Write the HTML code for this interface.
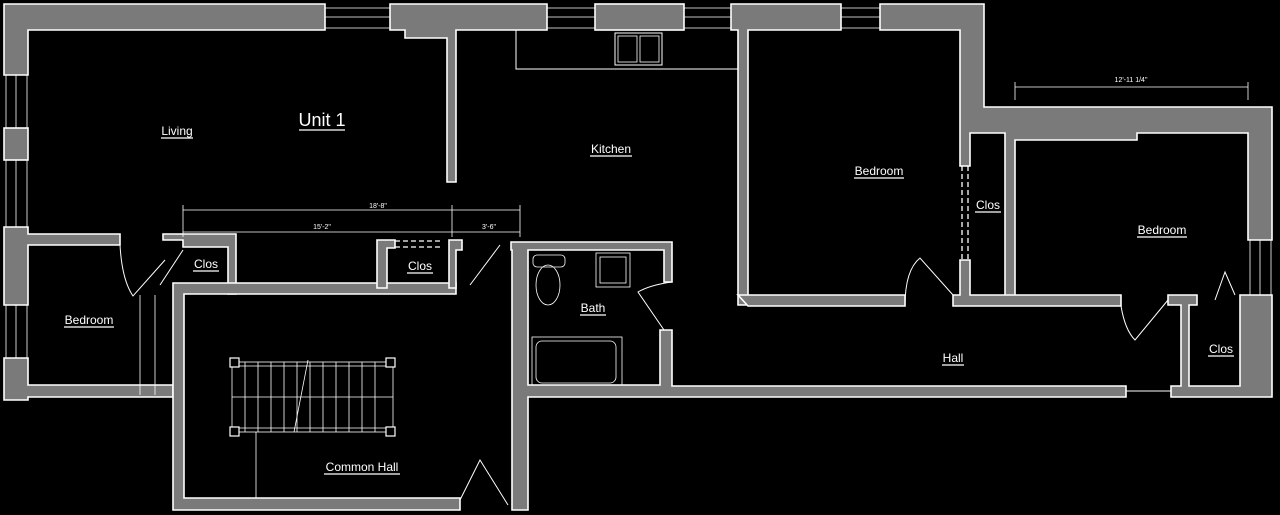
<!DOCTYPE html>
<html><head><meta charset="utf-8"><style>
html,body{margin:0;padding:0;background:#000;width:1280px;height:515px;overflow:hidden}
svg{display:block}
text{font-family:"Liberation Sans",sans-serif;fill:#fff}
.w{fill:#7a7a7a;stroke:#fff;stroke-width:1.6}
.l{stroke:#fff;stroke-width:1;fill:none}
.t{stroke:#fff;stroke-width:0.8;fill:none}
.d{stroke:#fff;stroke-width:1.3;fill:none;stroke-dasharray:5 3}
.u{stroke:#fff;stroke-width:1.2}
</style></head><body>
<svg width="1280" height="515" viewBox="0 0 1280 515">
<!-- top walls -->
<path class="w" d="M4,4 H325 V30 H28 V75 H4 Z"/>
<path class="w" d="M390,4 H547 V30 H456 V182 H447 V38 H405 V30 H390 Z"/>
<rect class="w" x="595" y="4" width="89" height="26"/>
<path class="w" d="M731,4 H841 V30 H748 V305 H738 V30 H731 Z"/>
<path class="w" d="M880,4 H984 V107 H1272 V240 H1248 V133 H1137 V140 H1015 V300 H1005 V133 H970 V166 H960 V30 H880 Z"/>
<!-- window lines -->
<g class="t">
<line x1="325" y1="8" x2="390" y2="8"/><line x1="325" y1="17" x2="390" y2="17"/><line x1="325" y1="28" x2="390" y2="28"/>
<line x1="547" y1="8" x2="595" y2="8"/><line x1="547" y1="17" x2="595" y2="17"/><line x1="547" y1="28" x2="595" y2="28"/>
<line x1="684" y1="8" x2="731" y2="8"/><line x1="684" y1="17" x2="731" y2="17"/><line x1="684" y1="28" x2="731" y2="28"/>
<line x1="841" y1="8" x2="880" y2="8"/><line x1="841" y1="17" x2="880" y2="17"/><line x1="841" y1="28" x2="880" y2="28"/>
<line x1="6" y1="75" x2="6" y2="128"/><line x1="16" y1="75" x2="16" y2="128"/><line x1="27" y1="75" x2="27" y2="128"/>
<line x1="6" y1="160" x2="6" y2="227"/><line x1="16" y1="160" x2="16" y2="227"/><line x1="27" y1="160" x2="27" y2="227"/>
<line x1="6" y1="305" x2="6" y2="358"/><line x1="16" y1="305" x2="16" y2="358"/><line x1="27" y1="305" x2="27" y2="358"/>
<line x1="1250" y1="240" x2="1250" y2="295"/><line x1="1260" y1="240" x2="1260" y2="295"/><line x1="1271" y1="240" x2="1271" y2="295"/>
</g>
<rect class="w" x="4" y="128" width="24" height="32"/>
<!-- left side -->
<path class="w" d="M4,227 H28 V234 H120 V245 H28 V305 H4 Z"/>
<path class="w" d="M4,358 H28 V385 H173 V397 H28 V400 H4 Z"/>
<!-- closet 1 -->
<path class="w" d="M163,234 H236 V294 H228 V247 H183 V240 H163 Z"/>
<!-- common hall -->
<path class="w" d="M173,283 H456 V294 H184 V498 H460 V510 H173 Z"/>
<!-- closet 2 -->
<path class="w" d="M377,240 H395 V248 H387 V288 H377 Z"/>
<path class="w" d="M449,240 H462 V250 H456 V288 H449 Z"/>
<!-- bath / right of common hall -->
<path class="w" d="M511,242 H672 V282 H664 V250 H528 V385 H660 V330 H672 V386 H1126 V397 H528 V510 H512 V250 H511 Z"/>
<!-- bedroom bottom walls -->
<path class="w" d="M738,295 H905 V306 H748 Z"/>
<path class="w" d="M953,295 H960 V260 H970 V295 H1121 V306 H953 Z"/>
<path class="w" d="M1168,295 H1197 V305 H1189 V386 H1240 V295 H1272 V397 H1171 V386 H1181 V305 H1168 Z"/>
<!-- closet dashed -->
<line class="d" x1="962" y1="166" x2="962" y2="260"/><line class="d" x1="968" y1="166" x2="968" y2="260"/>
<line class="d" x1="395" y1="241" x2="440" y2="241"/><line class="d" x1="395" y1="247" x2="440" y2="247"/>
<!-- kitchen counter -->
<path class="l" d="M516,30 V69 H738"/>
<rect class="l" x="615" y="33" width="47" height="32"/>
<rect class="t" x="618" y="36" width="19" height="26"/><rect class="t" x="640" y="36" width="19" height="26"/>
<!-- doors -->
<g class="l">
<path d="M120,245 Q122,280 133,296 L165,260" /><path d="M183,250 L160,285"/>
<path d="M905,306 Q905,270 920,258 L953,295"/>
<path d="M1121,306 Q1125,330 1135,340 L1168,300"/><path d="M1215,300 L1225,272 L1235,295"/>
<path d="M460,500 L480,460 L508,505"/><path d="M470,285 L500,245"/><path d="M672,282 Q650,285 638,292 L664,330"/>
<line x1="1126" y1="391" x2="1171" y2="391"/>
</g>
<!-- dimensions -->
<g class="t">
<line x1="183" y1="210" x2="520" y2="210"/><line x1="183" y1="232" x2="520" y2="232"/>
<line x1="183" y1="205" x2="183" y2="237"/><line x1="520" y1="205" x2="520" y2="237"/><line x1="452" y1="205" x2="452" y2="237"/>
<line x1="1015" y1="87" x2="1248" y2="87"/><line x1="1015" y1="82" x2="1015" y2="100"/><line x1="1248" y1="82" x2="1248" y2="100"/>
<line x1="140" y1="295" x2="140" y2="395"/><line x1="155" y1="295" x2="155" y2="395"/>
</g>
<!-- bath fixtures -->
<g class="t">
<rect x="533" y="255" width="32" height="12" rx="4"/><ellipse cx="548" cy="285" rx="12" ry="20"/>
<rect x="596" y="253" width="34" height="34"/><rect x="600" y="257" width="26" height="26"/>
<rect x="532" y="337" width="90" height="48"/><rect x="536" y="341" width="80" height="42" rx="6"/>
</g>
<!-- stairs -->
<g class="t">
<rect x="232" y="362" width="161" height="70"/>
<line x1="232" y1="366" x2="393" y2="366"/><line x1="232" y1="428" x2="393" y2="428"/>
<line x1="232" y1="397" x2="393" y2="397"/>
<line x1="245" y1="362" x2="245" y2="432"/><line x1="258" y1="362" x2="258" y2="432"/><line x1="271" y1="362" x2="271" y2="432"/><line x1="284" y1="362" x2="284" y2="432"/><line x1="297" y1="362" x2="297" y2="432"/><line x1="310" y1="362" x2="310" y2="432"/><line x1="323" y1="362" x2="323" y2="432"/><line x1="336" y1="362" x2="336" y2="432"/><line x1="349" y1="362" x2="349" y2="432"/><line x1="362" y1="362" x2="362" y2="432"/><line x1="375" y1="362" x2="375" y2="432"/>
<line x1="308" y1="360" x2="294" y2="432"/><line x1="256" y1="432" x2="256" y2="498"/>
</g>
<g fill="#000" stroke="#fff" stroke-width="1.2">
<rect x="230" y="358" width="9" height="9"/><rect x="386" y="358" width="9" height="9"/><rect x="230" y="427" width="9" height="9"/><rect x="386" y="427" width="9" height="9"/>
</g>
<!-- labels -->
<g font-size="12" text-anchor="middle">
<text x="322" y="126" font-size="18">Unit 1</text>
<text x="177" y="135">Living</text>
<text x="611" y="153">Kitchen</text>
<text x="879" y="175">Bedroom</text>
<text x="988" y="209">Clos</text>
<text x="1162" y="234">Bedroom</text>
<text x="206" y="268">Clos</text>
<text x="420" y="270">Clos</text>
<text x="593" y="312">Bath</text>
<text x="89" y="324">Bedroom</text>
<text x="953" y="362">Hall</text>
<text x="1221" y="353">Clos</text>
<text x="362" y="471">Common Hall</text>
</g>
<g class="u">
<line x1="299" y1="130" x2="345" y2="130"/>
<line x1="161" y1="138" x2="193" y2="138"/>
<line x1="590" y1="156" x2="632" y2="156"/>
<line x1="854" y1="178" x2="904" y2="178"/>
<line x1="975" y1="212" x2="1001" y2="212"/>
<line x1="1137" y1="237" x2="1187" y2="237"/>
<line x1="193" y1="271" x2="219" y2="271"/>
<line x1="407" y1="273" x2="433" y2="273"/>
<line x1="580" y1="315" x2="606" y2="315"/>
<line x1="64" y1="327" x2="114" y2="327"/>
<line x1="942" y1="365" x2="964" y2="365"/>
<line x1="1208" y1="356" x2="1234" y2="356"/>
<line x1="324" y1="474" x2="400" y2="474"/>
</g>
<g font-size="7" text-anchor="middle">
<text x="378" y="208">18'-8"</text><text x="322" y="229">15'-2"</text><text x="489" y="229">3'-6"</text>
<text x="1131" y="82">12'-11 1/4"</text>
</g>
</svg>
</body></html>
